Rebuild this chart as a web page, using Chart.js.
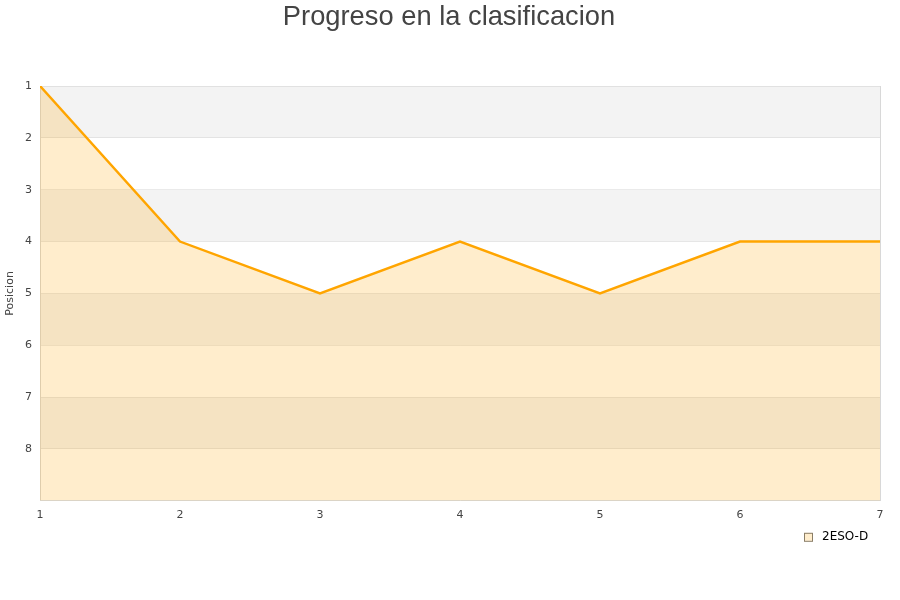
<!DOCTYPE html>
<html>
<head>
<meta charset="utf-8">
<script src="https://cdn.jsdelivr.net/npm/chart.js@4"></script>
<style>
html,body{margin:0;padding:0;background:#fff;}
canvas{display:block;}
</style>
</head>
<body>
<canvas id="c" width="900" height="600"></canvas>
<script>
const jornadas = [1, 2, 3, 4, 5, 6, 7];
const posiciones = [1, 4, 5, 4, 5, 4, 4];
const seriesName = '2ESO-D';
const chartTitle = 'Progreso en la clasificacion';
const yTitle = 'Posicion';
const yMin = 1, yMax = 9;

const decoPlugin = {
  id: 'deco',
  beforeDraw(chart) {
    const {ctx, chartArea: a, scales: {y}} = chart;
    ctx.save();
    for (let v = yMin; v < yMax; v++) {
      if ((v - yMin) % 2 === 0) {
        const p1 = y.getPixelForValue(v), p2 = y.getPixelForValue(v + 1);
        ctx.fillStyle = '#f3f3f3';
        ctx.fillRect(a.left, Math.min(p1, p2), a.right - a.left, Math.abs(p2 - p1));
      }
    }
    ctx.restore();
  },
  afterDraw(chart) {
    const {ctx, chartArea: a, width} = chart;
    ctx.save();
    // right border of plot area
    ctx.strokeStyle = '#d8d8d8';
    ctx.lineWidth = 1;
    ctx.beginPath();
    ctx.moveTo(a.right + 0.5, a.top);
    ctx.lineTo(a.right + 0.5, a.bottom);
    ctx.stroke();
    // title
    ctx.fillStyle = '#444';
    ctx.font = '27.3px "Liberation Sans", Arial, sans-serif';
    ctx.textAlign = 'center';
    ctx.textBaseline = 'middle';
    ctx.fillText(chartTitle, width / 2 - 1, 17);
    // legend
    const bx = a.right - 76, by = a.bottom + 32;
    ctx.fillStyle = 'rgba(255,165,0,0.2)';
    ctx.fillRect(bx, by, 8, 8);
    ctx.strokeStyle = '#8a7d66';
    ctx.strokeRect(bx + 0.5, by + 0.5, 8, 8);
    ctx.fillStyle = '#000';
    ctx.font = '12px "DejaVu Sans", sans-serif';
    ctx.textAlign = 'left';
    ctx.fillText(seriesName, bx + 18, by + 4.5);
    ctx.restore();
  }
};

new Chart(document.getElementById('c'), {
  type: 'line',
  data: {
    datasets: [{
      label: seriesName,
      data: jornadas.map((x, i) => ({x: x, y: posiciones[i]})),
      borderColor: '#ffa500',
      backgroundColor: 'rgba(255,165,0,0.2)',
      borderWidth: 2.5,
      pointRadius: 0,
      tension: 0,
      fill: {value: yMax}
    }]
  },
  options: {
    responsive: false,
    animation: false,
    devicePixelRatio: 1,
    layout: {padding: {left: 0, right: 20, top: 86, bottom: 70}},
    plugins: {
      title: {display: false},
      legend: {display: false},
      tooltip: {enabled: false}
    },
    scales: {
      x: {
        type: 'linear',
        min: 1, max: 7,
        ticks: {stepSize: 1, color: '#444', padding: 8, font: {family: 'DejaVu Sans, sans-serif', size: 11}},
        grid: {display: false, drawTicks: false},
        border: {display: true, color: '#d8d8d8'}
      },
      y: {
        reverse: true,
        min: yMin, max: yMax,
        afterFit(scale) { scale.width = 40; },
        ticks: {
          stepSize: 1, color: '#444', padding: 8,
          font: {family: 'DejaVu Sans, sans-serif', size: 11},
          callback: v => (v === yMax ? '' : v)
        },
        grid: {color: 'rgba(0,0,0,0.07)', drawTicks: false},
        border: {display: true, color: '#d8d8d8'},
        title: {
          display: true, text: yTitle, color: '#444',
          font: {family: 'DejaVu Sans, sans-serif', size: 11},
          padding: {top: 4, bottom: 0}
        }
      }
    }
  },
  plugins: [decoPlugin]
});
</script>
</body>
</html>
